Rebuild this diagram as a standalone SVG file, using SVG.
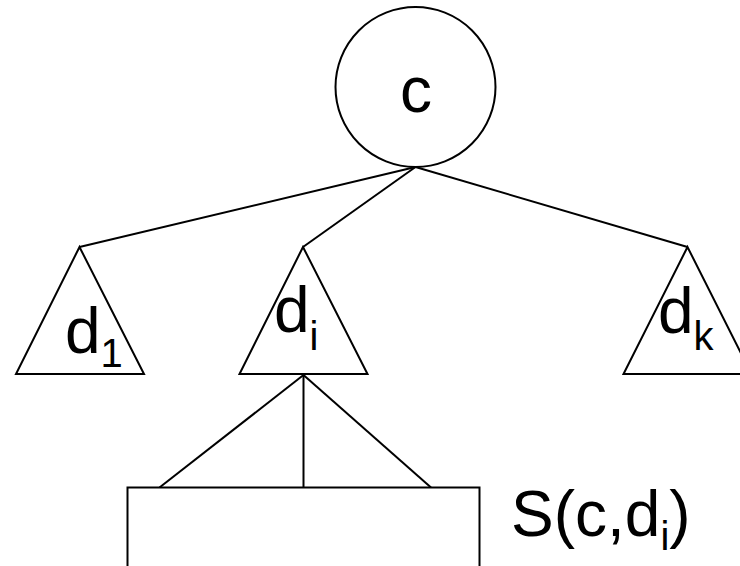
<svg xmlns="http://www.w3.org/2000/svg" width="740" height="566" viewBox="0 0 740 566">
<style>
.s{fill:none;stroke:#000;stroke-width:2}
.n{fill:#fff;stroke:#000;stroke-width:2}
.t{font-family:"Liberation Sans",Arial,sans-serif;font-size:64px;fill:#000}
.sub{font-size:40px}
</style>
<rect width="740" height="566" fill="#fff"/>
<g id="connectors">
<line class="s" x1="415.5" y1="167" x2="79.5" y2="247"/>
<line class="s" x1="415.5" y1="167" x2="303" y2="247"/>
<line class="s" x1="415.5" y1="167" x2="687.5" y2="247"/>
<line class="s" x1="303.5" y1="375" x2="159.5" y2="487.5"/>
<line class="s" x1="303.5" y1="375" x2="303.5" y2="487.5"/>
<line class="s" x1="303.5" y1="375" x2="431" y2="487.5"/>
</g>
<g id="c">
<circle class="n" cx="415.5" cy="87" r="80"/>
<text class="t" x="416" y="112" text-anchor="middle">c</text>
</g>
<g id="d1">
<polygon class="n" points="79.5,247 16,374 144,374"/>
<text class="t" x="65" y="353">d<tspan class="sub" dy="14">1</tspan></text>
</g>
<g id="di">
<polygon class="n" points="303,247 239.5,374 367.5,374"/>
<text class="t" x="274" y="332">d<tspan class="sub" dy="18">i</tspan></text>
</g>
<g id="dk">
<polygon class="n" points="687.5,247 623.5,374 751.5,374"/>
<text class="t" x="658" y="333">d<tspan class="sub" dy="17">k</tspan></text>
</g>
<g id="S">
<rect class="n" x="127.5" y="487.5" width="352" height="100"/>
<text class="t" x="511" y="536">S(c,d<tspan class="sub" dy="14">i</tspan><tspan dy="-14">)</tspan></text>
</g>
</svg>
